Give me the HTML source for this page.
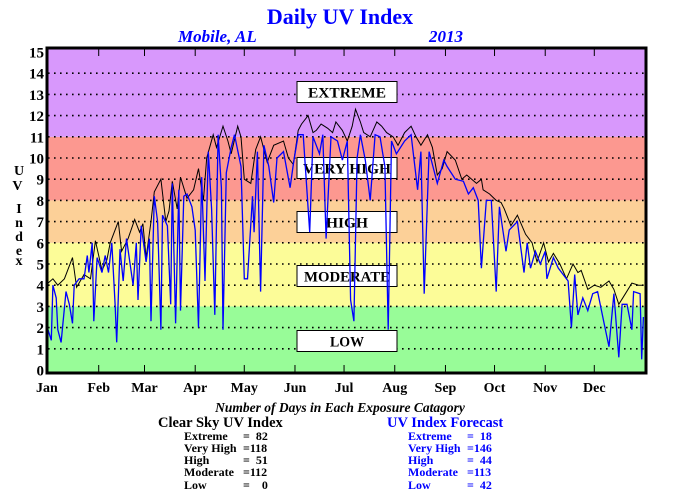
<!DOCTYPE html>
<html><head><meta charset="utf-8"><style>
body{margin:0;background:#fff;}
svg{display:block;font-family:"Liberation Serif",serif;}
svg text{white-space:pre;}
</style></head><body>
<svg id="c" width="680" height="500" viewBox="0 0 680 500">
<text x="340" y="24" text-anchor="middle" font-size="22" font-weight="bold" fill="#0000ff">Daily UV Index</text>
<text x="178" y="42" font-size="17" font-weight="bold" font-style="italic" fill="#0000ff">Mobile, AL</text>
<text x="429" y="42" font-size="17" font-weight="bold" font-style="italic" fill="#0000ff">2013</text>
<g id="bands"></g>
<g id="grid"></g>
<g id="labels"></g>
<g id="series"></g>
<g id="axes"></g>
<text font-size="14" font-weight="bold" fill="#000">
<tspan x="19" y="175" text-anchor="middle">U</tspan><tspan x="19" y="190" text-anchor="middle">V</tspan>
<tspan x="19" y="213" text-anchor="middle">I</tspan><tspan x="19" y="227" text-anchor="middle">n</tspan><tspan x="19" y="241" text-anchor="middle">d</tspan><tspan x="19" y="255" text-anchor="middle">e</tspan><tspan x="19" y="265" text-anchor="middle">x</tspan></text>
<text x="340" y="412" text-anchor="middle" font-size="13.5" font-weight="bold" font-style="italic">Number of Days in Each Exposure Catagory</text>
<g font-weight="bold">
<text x="158" y="427" font-size="14.5">Clear Sky UV Index</text>
<g font-size="12"><text x="184" y="440">Extreme</text><text x="243" y="440">=  82</text>
<text x="184" y="452">Very High</text><text x="243" y="452">=118</text>
<text x="184" y="464">High</text><text x="243" y="464">=  51</text>
<text x="184" y="476">Moderate</text><text x="243" y="476">=112</text>
<text x="184" y="489">Low</text><text x="243" y="489">=    0</text></g></g>
<g font-weight="bold" fill="#0000ff">
<text x="387" y="427" font-size="14.5">UV Index Forecast</text>
<g font-size="12"><text x="408" y="440">Extreme</text><text x="467" y="440">=  18</text>
<text x="408" y="452">Very High</text><text x="467" y="452">=146</text>
<text x="408" y="464">High</text><text x="467" y="464">=  44</text>
<text x="408" y="476">Moderate</text><text x="467" y="476">=113</text>
<text x="408" y="489">Low</text><text x="467" y="489">=  42</text></g></g>
</svg>
<script>
const monthLabels=["Jan","Feb","Mar","Apr","May","Jun","Jul","Aug","Sep","Oct","Nov","Dec"];
const monthStarts=[0,31,59,90,120,151,181,212,243,273,304,334];
const yTicks=[0,1,2,3,4,5,6,7,8,9,10,11,12,13,14,15];
const bandNames=["LOW","MODERATE","HIGH","VERY HIGH","EXTREME"];
const bandLow=[0,3,6,8,11];
const bandHigh=[3,6,8,11,15];
const bandColors=["#98fc98","#fcfc98","#fcd098","#fc9890","#d898fc"];
const clearDays=[0,3,6,10,15,17.5,22,26,29,33,36,38,43,45,49,53,56,58,60,63,65,69,72,74,76,79,81,85,89,92,95,97,101,103,107,110,112,116,118,120,124,127,130,134,138,144,147,150,153,155,159,162,164,167,171,174,176,180,183,186,188,191,193,197,201,204,207,211,214,218,222,225,228,232,235,238,241,244,249,253,256,262,265,266,270,274,277,279,283,287,292,296,299,303,306,309,313,317,321,324,326,330,334,338,343,346,349,353,357,361,364];
const clearVals=[4.1,4.3,4.0,4.3,5.3,3.9,4.5,4.3,6.1,4.7,5.2,6.0,7.0,5.6,6.2,7.1,6.5,6.9,5.3,7.0,8.4,9.0,7.0,7.5,8.9,7.6,9.1,8.1,8.5,9.5,8.0,10.0,11.1,10.5,11.5,10.8,10.2,11.5,11.0,9.0,8.8,10.4,11.0,9.8,10.6,10.8,10.0,9.7,11.3,11.6,12.0,11.2,11.3,11.6,11.4,11.2,11.7,11.3,10.8,11.5,12.3,11.7,11.2,11.0,11.7,11.5,11.2,11.0,10.6,11.2,11.5,11.0,10.6,11.1,10.5,9.2,9.5,10.3,9.9,9.0,9.2,8.8,9.0,8.5,8.3,8.0,7.9,7.6,6.8,7.3,6.4,6.0,5.1,6.0,5.1,5.5,5.0,4.3,5.0,4.6,4.7,3.8,4.0,3.9,4.2,3.8,3.1,3.6,4.1,4.0,4.0];
const fcDays=[0,2,3,5,6,8,11,13,15,16,19,22,24,25,27,28,30,33,35,37,39,41,42,44,46,48,52,54,55,57,60,62,63,65,67,69,70,73,75,76,78,80,81,83,85,88,90,92,94,96,98,100,102,104,106,107,109,112,114,118,120,122,125,126,128,130,132,135,138,140,144,148,150,153,156,160,162,166,168,170,173,177,180,183,185,187,189,191,194,197,200,203,206,208,210,213,218,222,226,228,230,233,238,242,244,249,254,257,260,263,265,268,271,274,276,280,282,287,291,293,295,298,301,304,305,309,312,318,320,322,324,327,330,333,336,340,343,346,349,351,354,357,358,362,363,364];
const fcVals=[1.9,1.4,4.0,3.4,1.9,1.3,3.7,3.1,2.2,4.0,4.3,4.3,5.4,4.6,6.0,2.3,5.3,4.6,5.4,4.6,6.0,3.1,1.3,5.7,4.2,6.2,4.0,6.0,3.3,6.8,5.1,6.2,2.3,8.2,7.0,1.9,7.3,6.8,3.1,8.8,2.2,8.5,2.8,8.2,8.3,7.7,6.6,2.0,9.1,4.2,10.3,7.6,2.6,11.1,8.6,1.9,9.3,10.5,11.1,9.6,4.3,4.3,8.2,6.5,10.3,3.7,10.6,9.6,7.9,10.0,10.3,8.6,9.7,11.1,11.1,6.5,11.0,10.2,11.1,6.2,11.0,10.8,9.9,10.8,3.3,2.3,10.0,11.1,9.9,8.0,11.1,11.0,9.6,1.9,10.8,10.2,10.8,11.1,8.5,10.3,3.6,10.3,8.8,9.9,9.6,9.0,8.9,8.3,8.6,8.0,4.8,8.0,8.0,3.7,7.7,5.6,6.6,7.0,4.6,6.0,4.8,5.6,5.0,5.6,4.3,5.3,4.8,4.2,2.0,4.5,2.6,3.4,2.8,3.6,3.7,2.2,1.1,3.6,0.6,3.1,3.1,1.9,3.7,3.6,0.5,2.5];
const NS="http://www.w3.org/2000/svg";
const X0=48,X1=645,Y0=370,Y1=52;
const xs=d=>X0+d*(X1-X0)/365;
const ys=v=>Y0-v*(Y0-Y1)/15;
function mk(t,attrs,parent){const e=document.createElementNS(NS,t);for(const k in attrs)e.setAttribute(k,attrs[k]);document.getElementById(parent).appendChild(e);return e;}
bandLow.forEach((lo,i)=>{
 const top=i===4?48:ys(bandHigh[i]);const bot=i===0?373:ys(lo);
 const r=mk("rect",{x:X0,y:top,width:X1-X0,height:bot-top,fill:bandColors[i]},"bands");
 
 
});
yTicks.forEach(v=>{
 if(v>0&&v<15){const l=mk("line",{x1:X0,x2:X1,y1:ys(v),y2:ys(v),stroke:"#000","stroke-width":1.6,"stroke-dasharray":"1.6 4.4"},"grid");
 
 }
 const t=mk("text",{x:44,y:ys(v)+5.5,"text-anchor":"end","font-size":15,"font-weight":"bold"},"axes");
 t.textContent=v;
 
 
});
const boxY=[341,276,222,168,92];
const boxTextW=[34,86,42,88,78];
bandNames.forEach((n,i)=>{
 const r=mk("rect",{x:297,y:boxY[i]-10.5,width:100,height:21,fill:"#fff",stroke:"#000","stroke-width":1},"labels");
 
 
 const t=mk("text",{x:347,y:boxY[i]+5.5,"text-anchor":"middle","font-size":15,"font-weight":"bold",textLength:boxTextW[i],lengthAdjust:"spacingAndGlyphs"},"labels");
 t.textContent=n;
 
 
});
function line(days,vals,color,w,name){
 const p=mk("polyline",{points:days.map((d,i)=>xs(d).toFixed(1)+","+ys(vals[i]).toFixed(1)).join(" "),fill:"none",stroke:color,"stroke-width":w},"series");
 
 
}
line(clearDays,clearVals,"#000",1,"clear-sky-line");
line(fcDays,fcVals,"#0000ff",1.3,"forecast-line");
const f=mk("rect",{x:X0-1,y:48,width:X1-X0+2,height:325,fill:"none",stroke:"#000","stroke-width":3},"axes");


monthStarts.forEach((d,i)=>{
 if(i>0){mk("line",{x1:xs(d),x2:xs(d),y1:48,y2:56,stroke:"#000","stroke-width":1},"axes");
 mk("line",{x1:xs(d),x2:xs(d),y1:365,y2:373,stroke:"#000","stroke-width":1},"axes");}
 const t=mk("text",{x:xs(d),y:392,"text-anchor":i===0?"start":"middle","font-size":14,"font-weight":"bold"},"axes");
 if(i===0)t.setAttribute("x",36);
 t.textContent=monthLabels[i];
 
 
});
</script>
</body></html>
